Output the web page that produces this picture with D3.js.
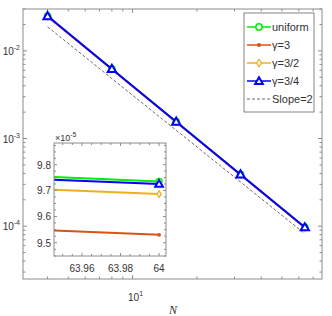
<!doctype html>
<html>
<head>
<meta charset="utf-8">
<title>Convergence</title>
<script src="https://cdnjs.cloudflare.com/ajax/libs/d3/7.8.5/d3.min.js"></script>
<style>
  body { margin: 0; background: #fff; }
  text { font-family: "Liberation Sans", Arial, sans-serif; fill: #333; }
</style>
</head>
<body>
<div id="chart"></div>
<script>
// data
const N = [4, 8, 16, 32, 64];
const uniform = [0.0249, 0.00623, 0.001558, 3.894e-4, 9.735e-5];
const gamma3 = [0.0244, 0.00610, 0.001525, 3.812e-4, 9.530e-5];
const gamma32 = [0.0248, 0.00620, 0.001550, 3.874e-4, 9.686e-5];
const gamma34 = [0.0249, 0.00622, 0.001556, 3.890e-4, 9.725e-5];
const slopeN = [4, 64];
const slopeVals = [0.0188, 8.2e-5];
const yMajor = [1e-4, 1e-3, 1e-2];
const insetXTicks = [63.96, 63.98, 64];
const insetYTicks = [9.5, 9.6, 9.7, 9.8];
const labels = ["uniform", "\u03b3=3", "\u03b3=3/2", "\u03b3=3/4", "Slope=2"];

const series = [
  {name: labels[0], vals: uniform, color: "#00ee00", marker: "circle"},
  {name: labels[1], vals: gamma3, color: "#D95319", marker: "dot"},
  {name: labels[2], vals: gamma32, color: "#EDB120", marker: "diamond"},
  {name: labels[3], vals: gamma34, color: "#0000ff", marker: "triangle"}
];

const W = 332, H = 316;
const axisCol = "#8c8c8c";
const svg = d3.select("#chart").append("svg").attr("width", W).attr("height", H);

const x = d3.scaleLog().domain([3.07, 77]).range([23, 322]);
const y = d3.scaleLog().domain([2.5e-5, 3e-2]).range([279, 9]);

function marker(g, type, cx, cy, color, s) {
  if (type === "circle") {
    g.append("circle").attr("cx", cx).attr("cy", cy).attr("r", s * 0.45)
      .attr("fill", "#fff").attr("stroke", color).attr("stroke-width", 1.5);
  } else if (type === "dot") {
    g.append("circle").attr("cx", cx).attr("cy", cy).attr("r", s * 0.3)
      .attr("fill", color);
  } else if (type === "diamond") {
    const r = s * 0.5;
    g.append("path").attr("d", `M${cx},${cy - r}L${cx + r * 0.7},${cy}L${cx},${cy + r}L${cx - r * 0.7},${cy}Z`)
      .attr("fill", "#fff").attr("stroke", color).attr("stroke-width", 1.3);
  } else {
    const r = s * 0.55;
    g.append("path").attr("d", `M${cx},${cy - r}L${cx + r},${cy + r * 0.75}L${cx - r},${cy + r * 0.75}Z`)
      .attr("fill", "#fff").attr("stroke", color).attr("stroke-width", 2);
  }
}

// main box + ticks
const [x0, x1] = x.range(), [y1, y0] = y.range();
const ax = svg.append("g").attr("stroke", axisCol).attr("stroke-width", 1).attr("fill", "none");
ax.append("rect").attr("x", x0).attr("y", y0).attr("width", x1 - x0).attr("height", y1 - y0);

const xTicks = x.ticks().filter(v => v >= x.domain()[0] && v <= x.domain()[1]);
xTicks.forEach(v => {
  const len = v === 10 ? 4 : 2.5;
  ax.append("line").attr("x1", x(v)).attr("x2", x(v)).attr("y1", y1).attr("y2", y1 - len);
  ax.append("line").attr("x1", x(v)).attr("x2", x(v)).attr("y1", y0).attr("y2", y0 + len);
});
const yTicks = y.ticks().filter(v => v >= y.domain()[0] && v <= y.domain()[1]);
yTicks.forEach(v => {
  const major = yMajor.some(m => Math.abs(m - v) / m < 1e-6);
  const len = major ? 4 : 2.5;
  ax.append("line").attr("x1", x0).attr("x2", x0 + len).attr("y1", y(v)).attr("y2", y(v));
  ax.append("line").attr("x1", x1).attr("x2", x1 - len).attr("y1", y(v)).attr("y2", y(v));
});

// y labels
yMajor.forEach(v => {
  const t = svg.append("text").attr("x", 20).attr("y", y(v) + 4).attr("text-anchor", "end")
    .attr("font-size", 10);
  t.append("tspan").text("10");
  t.append("tspan").attr("dy", -5).attr("font-size", 7).text(String(Math.round(Math.log10(v))));
});
// x label 10^1
{
  const t = svg.append("text").attr("x", x(10) + 3).attr("y", 301).attr("text-anchor", "middle")
    .attr("font-size", 10);
  t.append("tspan").text("10");
  t.append("tspan").attr("dy", -5).attr("font-size", 7).text("1");
}
svg.append("text").attr("x", 173).attr("y", 314).attr("text-anchor", "middle")
  .attr("font-size", 12).attr("font-style", "italic")
  .style("font-family", "'Liberation Serif', serif").text("N");

// slope line
const line = d3.line().x(d => x(d[0])).y(d => y(d[1]));
svg.append("path").datum(d3.zip(slopeN, slopeVals)).attr("d", line)
  .attr("fill", "none").attr("stroke", "#444").attr("stroke-width", 0.8)
  .attr("stroke-dasharray", "3,2");

// series
series.forEach((s, i) => {
  const g = svg.append("g");
  g.append("path").datum(d3.zip(N, s.vals)).attr("d", line)
    .attr("fill", "none").attr("stroke", s.color).attr("stroke-width", i === 3 ? 2 : 1.5);
  N.forEach((n, j) => marker(g, s.marker, x(n), y(s.vals[j]), s.color, s.marker === "triangle" ? 7.5 : 7));
});

// legend
const lg = svg.append("g");
lg.append("rect").attr("x", 244).attr("y", 13).attr("width", 70).attr("height", 99)
  .attr("fill", "#fff").attr("stroke", "#666").attr("stroke-width", 0.8);
labels.forEach((lab, i) => {
  const ly = 27 + i * 18;
  if (i < 4) {
    const s = series[i];
    lg.append("line").attr("x1", 247).attr("x2", 271).attr("y1", ly).attr("y2", ly)
      .attr("stroke", s.color).attr("stroke-width", 1.5);
    marker(lg, s.marker, 259, ly, s.color, s.marker === "triangle" ? 7 : 7);
  } else {
    lg.append("line").attr("x1", 247).attr("x2", 271).attr("y1", ly).attr("y2", ly)
      .attr("stroke", "#444").attr("stroke-width", 0.8).attr("stroke-dasharray", "3,2");
  }
  lg.append("text").attr("x", 272).attr("y", ly + 4).attr("font-size", 11).text(lab);
});

// inset
const ix = d3.scaleLog().domain([63.9455, 64.0036]).range([54, 166]);
const iy = d3.scaleLog().domain([9.45e-5, 9.885e-5]).range([256, 143]);
const ins = svg.append("g");
ins.append("rect").attr("x", 54).attr("y", 143).attr("width", 112).attr("height", 113)
  .attr("fill", "#fff");
svg.append("clipPath").attr("id", "clip").append("rect")
  .attr("x", 54).attr("y", 143).attr("width", 112).attr("height", 113);
const iline = d3.line().x(d => ix(d[0])).y(d => iy(d[1]));
const ig = ins.append("g").attr("clip-path", "url(#clip)");
series.forEach(s => {
  ig.append("path").datum(d3.zip(N, s.vals)).attr("d", iline)
    .attr("fill", "none").attr("stroke", s.color).attr("stroke-width", 2);
});
series.forEach(s => {
  marker(ins, s.marker, ix(64), iy(s.vals[4]), s.color, s.marker === "triangle" ? 7 : 6.5);
});
const iax = ins.append("g").attr("stroke", axisCol).attr("fill", "none");
iax.append("rect").attr("x", 54).attr("y", 143).attr("width", 112).attr("height", 113);
d3.range(63.95, 64.004, 0.005).forEach(v => {
  const major = insetXTicks.some(m => Math.abs(m - v) < 1e-6);
  const len = major ? 3 : 2;
  iax.append("line").attr("x1", ix(v)).attr("x2", ix(v)).attr("y1", 256).attr("y2", 256 - len);
  iax.append("line").attr("x1", ix(v)).attr("x2", ix(v)).attr("y1", 143).attr("y2", 143 + len);
});
d3.range(9.45, 9.89, 0.025).forEach(v => {
  const major = insetYTicks.some(m => Math.abs(m - v) < 1e-6);
  const len = major ? 3 : 2;
  const yy = iy(v * 1e-5);
  iax.append("line").attr("x1", 54).attr("x2", 54 + len).attr("y1", yy).attr("y2", yy);
  iax.append("line").attr("x1", 166).attr("x2", 166 - len).attr("y1", yy).attr("y2", yy);
});
insetXTicks.forEach(v => {
  ins.append("text").attr("x", ix(v)).attr("y", 272).attr("text-anchor", "middle")
    .attr("font-size", 10).text(String(v));
});
insetYTicks.forEach(v => {
  ins.append("text").attr("x", 51).attr("y", iy(v * 1e-5) + 4).attr("text-anchor", "end")
    .attr("font-size", 10).text(v.toFixed(1));
});
{
  const t = ins.append("text").attr("x", 55).attr("y", 141).attr("font-size", 9);
  t.append("tspan").text("\u00d710");
  t.append("tspan").attr("dy", -4).attr("font-size", 7).text("-5");
}
</script>
</body>
</html>
